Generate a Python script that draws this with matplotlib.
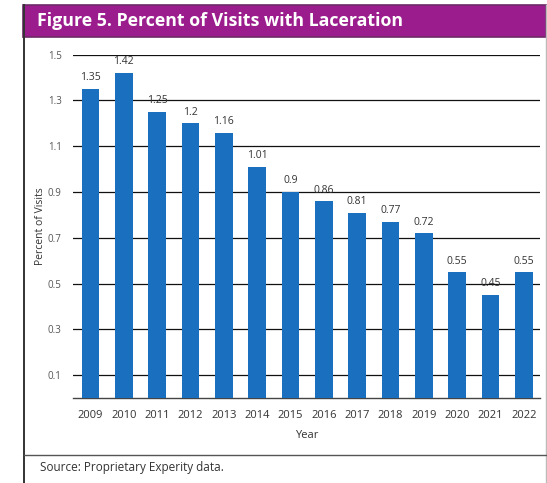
import matplotlib
matplotlib.use("Agg")
import matplotlib.pyplot as plt
from matplotlib.patches import Rectangle
from matplotlib.lines import Line2D

years = ["2009", "2010", "2011", "2012", "2013", "2014", "2015",
         "2016", "2017", "2018", "2019", "2020", "2021", "2022"]
percent = [1.35, 1.42, 1.25, 1.2, 1.16, 1.01, 0.9,
           0.86, 0.81, 0.77, 0.72, 0.55, 0.45, 0.55]
y_ticks = [0.1, 0.3, 0.5, 0.7, 0.9, 1.1, 1.3, 1.5]

plt.rcParams["font.family"] = ["Open Sans", "DejaVu Sans"]

W, H = 547, 483
fig = plt.figure(figsize=(W / 100, H / 100), dpi=100)
fig.patch.set_facecolor("white")


def fx(px):
    return px / W


def fy(py):
    return 1 - py / H


# Title banner
fig.patches.append(Rectangle((fx(23), fy(37)), fx(546) - fx(23), fy(5) - fy(37),
                             transform=fig.transFigure, facecolor="#9b1d8d",
                             edgecolor="#6e2a68", linewidth=1.2, zorder=1))
fig.text(fx(37), fy(21), "Figure 5. Percent of Visits with Laceration",
         color="white", fontsize=12.8, fontweight="bold", va="center", ha="left")

# Frame lines
fig.lines.append(Line2D([fx(24), fx(24)], [fy(5), fy(483)], transform=fig.transFigure,
                        color="#333333", linewidth=1.4))
fig.lines.append(Line2D([fx(546), fx(546)], [fy(5), fy(483)], transform=fig.transFigure,
                        color="#bbbbbb", linewidth=1.0))
fig.lines.append(Line2D([fx(24), fx(546)], [fy(455), fy(455)], transform=fig.transFigure,
                        color="#555555", linewidth=1.0))

fig.text(fx(40), fy(467), "Source: Proprietary Experity data.", color="#333333",
         fontsize=8.5, va="center", ha="left")

# Chart
ax = fig.add_axes([fx(72.7), fy(398), fx(540) - fx(72.7), fy(54.7) - fy(398)])
x = list(range(len(years)))
ax.bar(x, percent, width=0.53, color="#1b6fbf", zorder=3)
ax.set_xlim(-0.53, len(years) - 1 + 0.48)
ax.set_ylim(0, 1.5)
ax.set_yticks(y_ticks)
ax.set_yticklabels([f"{v:g}" for v in y_ticks])
ax.set_xticks(x)
ax.set_xticklabels(years)
ax.tick_params(axis="y", length=0, pad=8, labelsize=7, labelcolor="#555555")
ax.tick_params(axis="x", length=0, pad=9, labelsize=8, labelcolor="#333333")
for v in y_ticks:
    ax.axhline(v, color="#111111", linewidth=0.9, zorder=1)
for s in ["top", "right", "left"]:
    ax.spines[s].set_visible(False)
ax.spines["bottom"].set_color("#444444")
ax.spines["bottom"].set_linewidth(1.0)

for xi, v in zip(x, percent):
    ax.annotate(f"{v:g}", (xi, v), xytext=(0, 4), textcoords="offset points",
                ha="center", va="bottom", fontsize=7.5, color="#333333", zorder=4)

ax.set_xlabel("Year", fontsize=8, color="#333333", labelpad=6)
ax.set_ylabel("Percent of Visits", fontsize=7.5, color="#333333", labelpad=1.5)

fig.savefig("out.png", dpi=100, facecolor="white")
